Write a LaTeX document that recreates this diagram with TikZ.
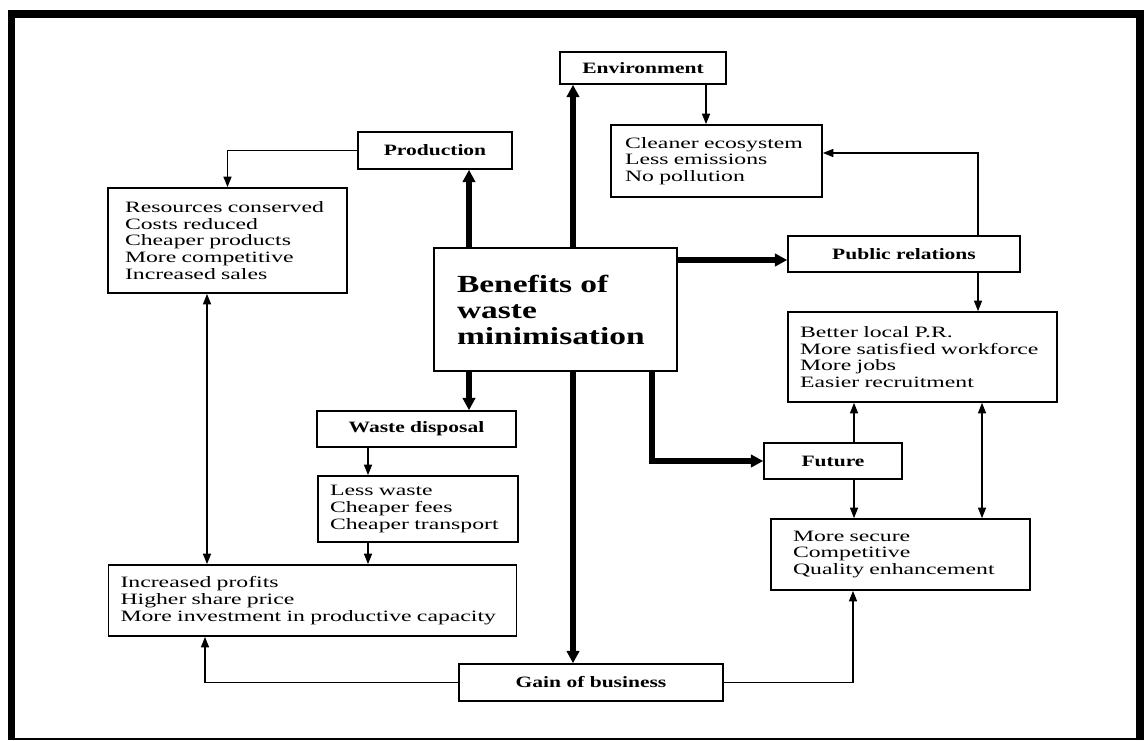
\documentclass[tikz,border=0pt]{standalone}
\usepackage{fontspec}
\setmainfont{Liberation Serif}[FakeStretch=1.5]
\newfontfamily\lblfont{Liberation Serif}[FakeStretch=1.36]
\usetikzlibrary{arrows.meta,calc}
\tikzset{
  box/.style={draw, line width=0.9pt, inner sep=0pt, font=\fontsize{9}{9.5}\selectfont},
  lbl/.style={box, font=\lblfont\bfseries\fontsize{9}{9.5}\selectfont},
  list/.style={box, align=left},
  arr/.style={-{Triangle[length=6pt,width=4.5pt]}, line width=0.9pt},
  dbl/.style={{Triangle[length=6pt,width=4.5pt]}-{Triangle[length=6pt,width=4.5pt]}, line width=0.9pt},
  thk/.style={-{Triangle[length=7pt,width=7pt]}, line width=3.2pt}}

\begin{document}
\begin{tikzpicture}[x=0.02cm, y=-0.02cm]
\useasboundingbox (0,0) rectangle (1145,740);
% frame
\fill (8,10) rectangle (1144,740);
\fill[white] (15,18) rectangle (1136,738);

% centre
\node[box, text width=3.94cm, inner xsep=0.46cm, minimum height=2.46cm, align=left,
  font=\lblfont\bfseries\fontsize{14}{14.8}\selectfont] (ben) at (555.5,309.5) {Benefits of\\waste\\minimisation};

% left side
\node[lbl, minimum width=3.08cm, minimum height=0.74cm] (prod) at (435,150.5) {Production};
\node[list, text width=4.1cm, inner xsep=0.34cm, minimum height=2.1cm] (res) at (227.5,240.5)
  {Resources conserved\\Costs reduced\\Cheaper products\\More competitive\\Increased sales};
\node[lbl, minimum width=3.98cm, minimum height=0.72cm] (wd) at (416.5,429) {Waste disposal};
\node[list, text width=3.52cm, inner xsep=0.24cm, minimum height=1.32cm] (less) at (418,509)
  {Less waste\\Cheaper fees\\Cheaper transport};
\node[list, text width=7.68cm, inner xsep=0.24cm, minimum height=1.42cm] (prof) at (312.5,600.5)
  {Increased profits\\Higher share price\\More investment in productive capacity};
\node[lbl, minimum width=5.28cm, minimum height=0.74cm] (gain) at (591,682.5) {Gain of business};

% right side
\node[lbl, minimum width=3.32cm, minimum height=0.64cm] (env) at (643,68) {Environment};
\node[list, text width=3.66cm, inner xsep=0.28cm, minimum height=1.44cm] (eco) at (716.5,161)
  {Cleaner ecosystem\\Less emissions\\No pollution};
\node[lbl, minimum width=4.64cm, minimum height=0.72cm] (pr) at (904,254) {Public relations};
\node[list, text width=4.9cm, inner xsep=0.24cm, minimum height=1.8cm] (better) at (922.5,357)
  {Better local P.R.\\More satisfied workforce\\More jobs\\Easier recruitment};
\node[lbl, minimum width=2.76cm, minimum height=0.72cm] (fut) at (833,461) {Future};
\node[list, text width=4.3cm, inner xsep=0.44cm, minimum height=1.42cm] (sec) at (900.5,554.5)
  {More secure\\Competitive\\Quality enhancement};

% thick arrows out of the centre
\draw[thk] (ben.north) ++(17.5,0) coordinate (b1) -- (b1 |- env.south);
\draw[thk] (ben.north) ++(-86.5,0) coordinate (b2) -- (b2 |- prod.south);
\draw[thk] (ben.east) ++(0,-49.5) coordinate (b3) -- (b3 -| pr.west);
\draw[thk] (ben.south) ++(-86.5,0) coordinate (b4) -- (b4 |- wd.north);
\draw[thk] (ben.south) ++(17.5,0) coordinate (b5) -- (b5 |- gain.north);
\draw[thk] (ben.south) ++(96.5,0) |- (fut.west);

% thin arrows
\draw[arr] (env.south) ++(63,0) coordinate (e1) -- (e1 |- eco.north);
\draw[arr] (pr.north) ++(74,0) |- ($(eco.east)+(0,-8)$);
\draw[arr] (pr.south) ++(74,0) coordinate (p1) -- (p1 |- better.north);
\draw[arr] (prod.west) -| (res.north);
\draw[dbl] (res.south) ++(-20.5,0) coordinate (r1) -- (r1 |- prof.north);
\draw[arr] (wd.south) ++(-48.5,0) coordinate (w1) -- (w1 |- less.north);
\draw[arr] (less.south) ++(-50,0) coordinate (l1) -- (l1 |- prof.north);
\draw[arr] (fut.north) ++(21,0) coordinate (f1) -- (f1 |- better.south);
\draw[arr] (fut.south) ++(21,0) coordinate (f2) -- (f2 |- sec.north);
\draw[dbl] (better.south) ++(59.5,0) coordinate (c1) -- (c1 |- sec.north);
\draw[arr] (gain.west) -| ($(prof.south)+(-107.5,0)$);
\draw[arr] (gain.east) -| ($(sec.south)+(-47.5,0)$);
\end{tikzpicture}
\end{document}
